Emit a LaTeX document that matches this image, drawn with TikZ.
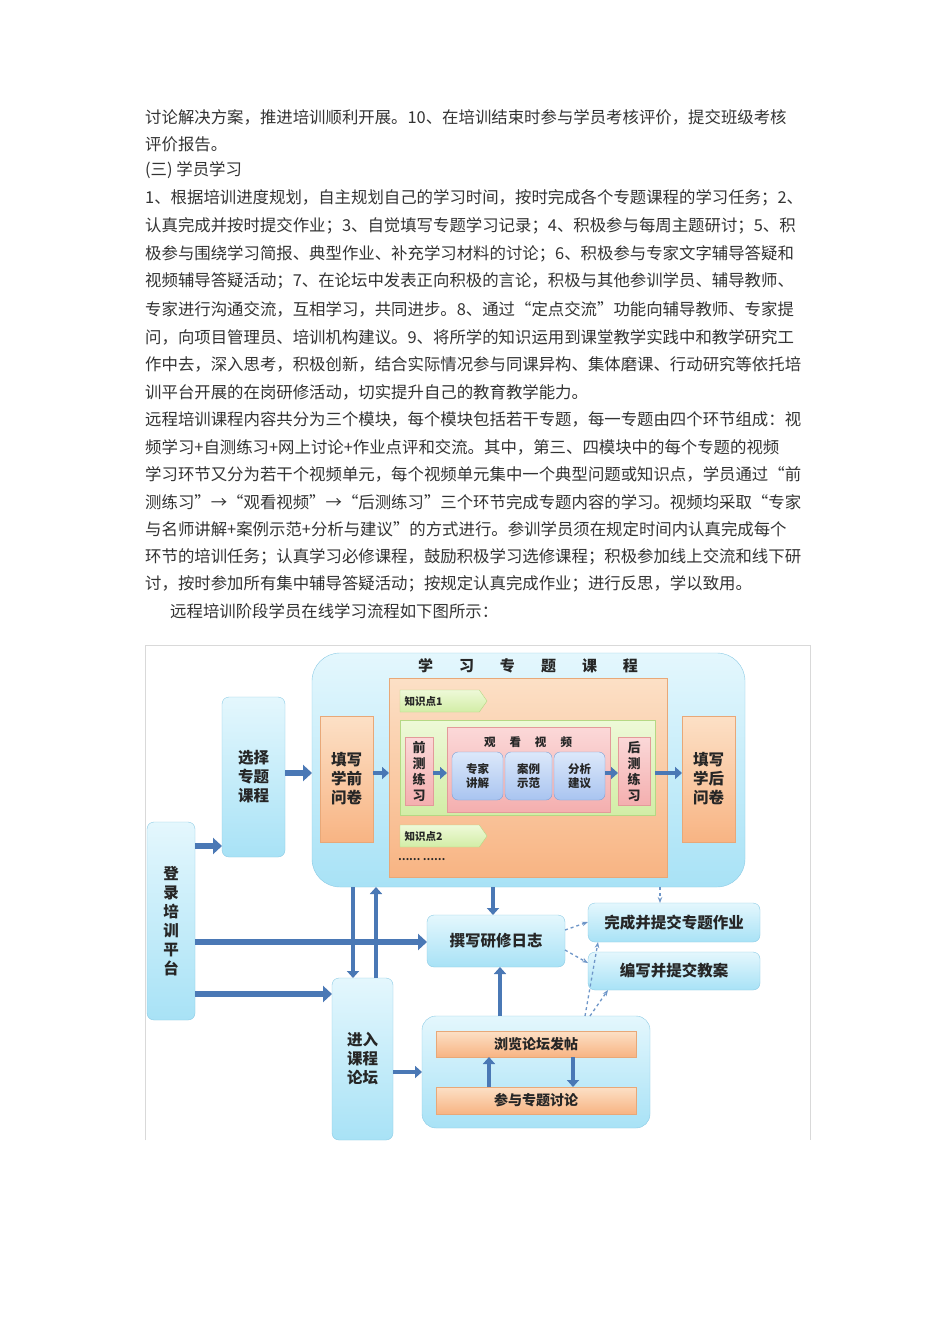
\documentclass[tikz,border=0pt]{standalone}
\usepackage{fontspec}
\setmainfont{Noto Sans CJK SC}
\usetikzlibrary{arrows.meta,shapes.arrows,shapes.symbols,calc}
\definecolor{txt}{HTML}{333333}
\definecolor{bfa}{HTML}{E4F7FD}\definecolor{bfb}{HTML}{A8E2F6}\definecolor{bdr}{HTML}{8CCBE5}
\definecolor{ofa}{HTML}{FCE0C6}\definecolor{ofb}{HTML}{F8B483}\definecolor{odr}{HTML}{E8A878}
\definecolor{gfa}{HTML}{EEF9D8}\definecolor{gfb}{HTML}{D2EDA6}\definecolor{gdr}{HTML}{B5D884}
\definecolor{pfa}{HTML}{FBD8D8}\definecolor{pfb}{HTML}{F4AFAF}\definecolor{pdr}{HTML}{E39A9A}
\definecolor{lfa}{HTML}{DCE8FA}\definecolor{lfb}{HTML}{A9C4F0}\definecolor{ldr}{HTML}{7E9FD3}
\definecolor{arr}{HTML}{4A78B5}\definecolor{dsh}{HTML}{6E96C8}
\newcommand\bx[7]{\node[#2,minimum width={(#5)-(#3)},minimum height={(#6)-(#4)}] (#1) at ({((#3)+(#5))/2},{((#4)+(#6))/2}) {#7};}
\newcommand\tline[3]{\node[line] (#1) at (#2) {#3};}
\begin{document}
\begin{tikzpicture}[x=1pt,y=-1pt,
  line/.style={anchor=west,inner sep=0,font=\fontsize{16.4}{16}\selectfont,text=txt},
  base/.style={inner sep=0,outer sep=0,align=center,text=black!85,font=\bfseries\fontsize{15.5}{19}\selectfont},
  bluebox/.style={base,draw=bdr,rounded corners=7pt,top color=bfa,bottom color=bfb},
  orbox/.style={base,draw=odr,top color=ofa,bottom color=ofb},
  grbox/.style={base,draw=gdr,top color=gfa,bottom color=gfb},
  pkbox/.style={base,draw=pdr,top color=pfa,bottom color=pfb,font=\bfseries\fontsize{13}{16}\selectfont},
  lbbox/.style={base,draw=ldr,rounded corners=6pt,top color=lfa,bottom color=lfb,font=\bfseries\fontsize{11.5}{14}\selectfont},
  tag/.style={base,draw=gdr,top color=gfa,bottom color=gfb,shape=signal,signal to=east,signal pointer angle=110,font=\bfseries\fontsize{10.5}{12}\selectfont,anchor=west,minimum height=22pt,minimum width=87pt,text width=70pt,align=left},
  barrow/.style={draw=arr,line width=6pt,-{Triangle[length=9pt,width=16pt]}},
  sarrow/.style={draw=arr,line width=4.5pt,-{Triangle[length=7pt,width=12pt]}},
  darrow/.style={draw=dsh,line width=1.3pt,dashed,-{Stealth[length=6pt]}}]
\useasboundingbox (0,0) rectangle (950,1344);
\fill[white] (0,0) rectangle (950,1344);
\tline{l1}{145,117}{讨论解决方案，推进培训顺利开展。10、在培训结束时参与学员考核评价，提交班级考核}
\tline{l2}{145,144}{评价报告。}
\tline{l3}{145,170}{(三) 学员学习}
\tline{l4}{145,198}{1、根据培训进度规划，自主规划自己的学习时间，按时完成各个专题课程的学习任务；2、}
\tline{l5}{145,226}{认真完成并按时提交作业；3、自觉填写专题学习记录；4、积极参与每周主题研讨；5、积}
\tline{l6}{145,254}{极参与围绕学习简报、典型作业、补充学习材料的讨论；6、积极参与专家文字辅导答疑和}
\tline{l7}{145,281}{视频辅导答疑活动；7、在论坛中发表正向积极的言论，积极与其他参训学员、辅导教师、}
\tline{l8}{145,309}{专家进行沟通交流，互相学习，共同进步。8、通过“定点交流”功能向辅导教师、专家提}
\tline{l9}{145,337}{问，向项目管理员、培训机构建议。9、将所学的知识运用到课堂教学实践中和教学研究工}
\tline{l10}{145,364}{作中去，深入思考，积极创新，结合实际情况参与同课异构、集体磨课、行动研究等依托培}
\tline{l11}{145,392}{训平台开展的在岗研修活动，切实提升自己的教育教学能力。}
\tline{l12}{145,419}{远程培训课程内容共分为三个模块，每个模块包括若干专题，每一专题由四个环节组成：视}
\tline{l13}{145,447}{频学习+自测练习+网上讨论+作业点评和交流。其中，第三、四模块中的每个专题的视频}
\tline{l14}{145,474}{学习环节又分为若干个视频单元，每个视频单元集中一个典型问题或知识点，学员通过“前}
\tline{l15}{145,502}{测练习”→“观看视频”→“后测练习”三个环节完成专题内容的学习。视频均采取“专家}
\tline{l16}{145,529}{与名师讲解+案例示范+分析与建议”的方式进行。参训学员须在规定时间内认真完成每个}
\tline{l17}{145,557}{环节的培训任务；认真学习必修课程，鼓励积极学习选修课程；积极参加线上交流和线下研}
\tline{l18}{145,584}{讨，按时参加所有集中辅导答疑活动；按规定认真完成作业；进行反思，学以致用。}
\tline{l19}{170,611}{远程培训阶段学员在线学习流程如下图所示：}
% frame
\draw[black!15] (145,1140) -- (145,645) -- (810,645) -- (810,1140);
% boxes
\bx{login}{bluebox}{147}{822}{195}{1020}{登\\录\\培\\训\\平\\台}
\bx{sel}{bluebox}{222}{697}{285}{857}{选择\\专题\\课程}
\bx{big}{bluebox,rounded corners=28pt}{312}{653}{745}{887}{}
\node[base,font=\bfseries\fontsize{15}{15}\selectfont] (ttl) at (528,666) {学\hspace{26pt}习\hspace{26pt}专\hspace{26pt}题\hspace{26pt}课\hspace{26pt}程};
\bx{pre}{orbox}{320}{716}{373}{842}{填写\\学前\\问卷}
\bx{inner}{orbox}{389}{678}{667}{877}{}
\node[tag] (k1) at (400,701) {知识点1};
\bx{grn}{grbox}{400}{720}{655}{815}{}
\bx{qc}{pkbox}{405}{737}{433}{805}{前\\测\\练\\习}
\bx{vid}{pkbox}{447}{727}{610}{812}{}
\node[base,font=\bfseries\fontsize{11.5}{11}\selectfont] (vt) at (528,742) {观\hspace{14pt}看\hspace{14pt}视\hspace{14pt}频};
\bx{v1}{lbbox}{452}{752}{503}{800}{专家\\讲解}
\bx{v2}{lbbox}{505}{752}{552}{800}{案例\\示范}
\bx{v3}{lbbox}{554}{752}{605}{800}{分析\\建议}
\bx{hc}{pkbox}{618}{737}{650}{805}{后\\测\\练\\习}
\bx{post}{orbox}{682}{716}{735}{842}{填写\\学后\\问卷}
\node[tag] (k2) at (400,836) {知识点2};
\node[base,anchor=west,font=\bfseries\fontsize{10}{10}\selectfont] (dots) at (398,860) {…… ……};
\bx{log}{bluebox}{427}{915}{565}{967}{撰写研修日志}
\bx{hw}{bluebox}{588}{903}{760}{942}{完成并提交专题作业}
\bx{lp}{bluebox}{588}{952}{760}{990}{编写并提交教案}
\bx{fe}{bluebox}{332}{978}{393}{1140}{进入\\课程\\论坛}
\bx{fp}{bluebox,rounded corners=14pt}{422}{1016}{650}{1128}{}
\bx{br}{orbox,font=\bfseries\fontsize{14}{14}\selectfont}{436}{1031}{636}{1057}{浏览论坛发帖}
\bx{dc}{orbox,font=\bfseries\fontsize{14}{14}\selectfont}{436}{1087}{636}{1114}{参与专题讨论}
% arrows
\draw[barrow] (login.east |- 0,846) -- (sel.west |- 0,846);
\draw[barrow] (sel.east |- 0,773) -- (big.west |- 0,773);
\draw[sarrow] (pre.east |- 0,773) -- (inner.west |- 0,773);
\draw[sarrow] (qc.east |- 0,773) -- (vid.west |- 0,773);
\draw[sarrow] (v3.east |- 0,773) -- (hc.west |- 0,773);
\draw[sarrow] (grn.east |- 0,773) -- (post.west |- 0,773);
\draw[barrow] (login.east |- 0,942) -- (log.west |- 0,942);
\draw[barrow] (login.east |- 0,994) -- (fe.west |- 0,994);
\draw[sarrow] (big.south -| 353,0) -- (fe.north -| 353,0);
\draw[sarrow] (fe.north -| 376,0) -- (big.south -| 376,0);
\draw[sarrow] (big.south -| 493,0) -- (log.north -| 493,0);
\draw[sarrow] (fp.north -| 500,0) -- (log.south -| 500,0);
\draw[sarrow] (fe.east |- 0,1072) -- (fp.west |- 0,1072);
\draw[sarrow] (dc.north -| 489,0) -- (br.south -| 489,0);
\draw[sarrow] (br.south -| 573,0) -- (dc.north -| 573,0);
\draw[darrow] (big.south -| 660,0) -- (hw.north -| 660,0);
\draw[darrow] (log.east |- 0,930) -- (hw.west |- 0,922);
\draw[darrow] (log.east |- 0,950) -- (lp.west |- 0,963);
\draw[darrow] (fp.north -| 585,0) -- (hw.south -| 598,0);
\draw[darrow] (fp.north -| 590,0) -- (lp.south -| 608,0);
\end{tikzpicture}
\end{document}
